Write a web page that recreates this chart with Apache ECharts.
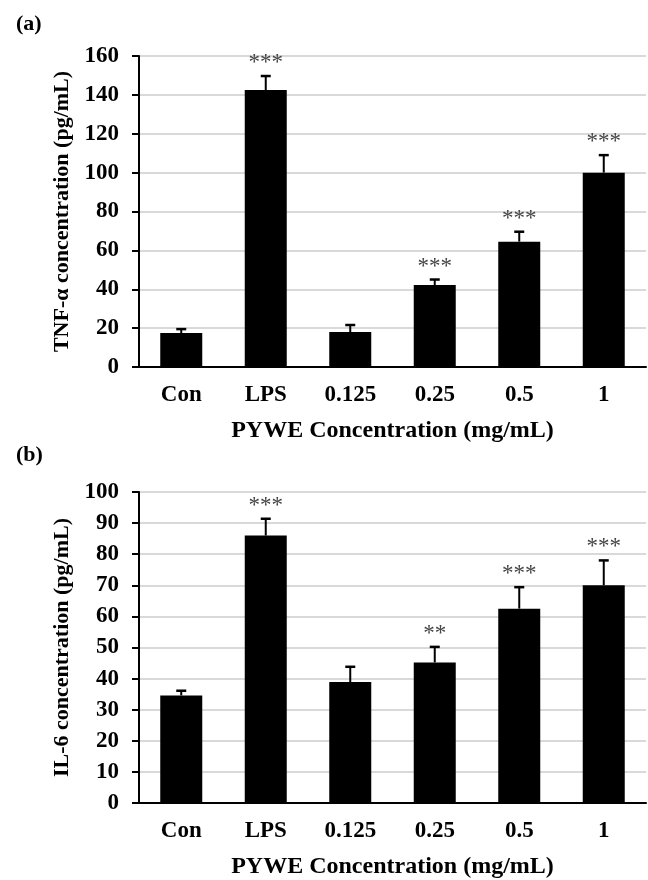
<!DOCTYPE html>
<html>
<head>
<meta charset="utf-8">
<script src="https://cdn.jsdelivr.net/npm/echarts@6/dist/echarts.min.js"></script>
<style>
  html, body { margin: 0; padding: 0; background: #fff; }
  #chart { width: 648px; height: 880px; }
</style>
</head>
<body>
<div id="chart"></div>
<script>
// ---- Data ----
const categories = ['Con', 'LPS', '0.125', '0.25', '0.5', '1'];

const tnfMean  = [17.5, 142.5, 18.0, 42.2, 64.5, 100.0];
const tnfUpper = [19.5, 149.7, 21.6, 45.0, 69.6, 109.0];
const tnfStars = ['', '***', '', '***', '***', '***'];

const il6Mean  = [34.6, 86.0, 38.9, 45.2, 62.5, 70.0];
const il6Upper = [36.1, 91.4, 43.8, 50.2, 69.4, 78.0];
const il6Stars = ['', '***', '', '**', '***', '***'];

const panelLabels = ['(a)', '(b)'];
const yTitles = ['TNF-\u03b1 concentration (pg/mL)', 'IL-6 concentration (pg/mL)'];
const xTitle = 'PYWE Concentration (mg/mL)';

// ---- Chart ----
const FONT = "'Liberation Serif', 'Times New Roman', serif";
const chart = echarts.init(document.getElementById('chart'), null, { renderer: 'canvas' });

function errSeries(gridIdx, mean, upper, stars) {
  return {
    type: 'custom',
    xAxisIndex: gridIdx,
    yAxisIndex: gridIdx,
    z: 5,
    data: mean.map((m, i) => [i, m, upper[i]]),
    renderItem: function (params, api) {
      const i = api.value(0);
      const p0 = api.coord([i, api.value(1)]);
      const p1 = api.coord([i, api.value(2)]);
      const cap = 5;
      const children = [
        { type: 'line', shape: { x1: p0[0], y1: p0[1], x2: p1[0], y2: p1[1] },
          style: { stroke: '#000', lineWidth: 2 } },
        { type: 'line', shape: { x1: p1[0] - cap, y1: p1[1], x2: p1[0] + cap, y2: p1[1] },
          style: { stroke: '#000', lineWidth: 2.5 } }
      ];
      const s = stars[params.dataIndex];
      if (s) {
        children.push({
          type: 'text',
          style: {
            text: s, x: p1[0], y: p1[1] - 13,
            align: 'center', verticalAlign: 'middle',
            font: 'normal 23px ' + FONT, fill: '#444'
          }
        });
      }
      return { type: 'group', children: children };
    }
  };
}

function xAxisCfg(gridIdx) {
  return {
    type: 'category',
    gridIndex: gridIdx,
    data: categories,
    name: xTitle,
    nameLocation: 'middle',
    nameGap: 52,
    nameTextStyle: { fontFamily: FONT, fontWeight: 'bold', fontSize: 24, color: '#000', verticalAlign: 'top' },
    axisLine: { lineStyle: { color: '#000', width: 2 } },
    axisTick: { alignWithLabel: true, length: 7, lineStyle: { color: '#000', width: 2 } },
    axisLabel: { fontFamily: FONT, fontWeight: 'bold', fontSize: 23, color: '#000', margin: 17 },
    splitLine: { show: false }
  };
}

function yAxisCfg(gridIdx, max, interval, title) {
  return {
    type: 'value',
    gridIndex: gridIdx,
    min: 0, max: max, interval: interval,
    name: title,
    nameLocation: 'middle',
    nameGap: 64,
    nameTextStyle: { fontFamily: FONT, fontWeight: 'bold', fontSize: 22, color: '#000' },
    axisLine: { show: true, lineStyle: { color: '#000', width: 2 } },
    axisTick: { show: true, length: 7, lineStyle: { color: '#000', width: 2 } },
    axisLabel: { fontFamily: FONT, fontWeight: 'bold', fontSize: 23, color: '#000', margin: 20 },
    splitLine: { show: true, lineStyle: { color: '#d9d9d9', width: 2 } }
  };
}

const option = {
  backgroundColor: '#fff',
  animation: false,
  title: [
    { text: panelLabels[0], left: 11, top: 8,
      textStyle: { fontFamily: FONT, fontWeight: 'bold', fontSize: 22, color: '#000' } },
    { text: panelLabels[1], left: 11, top: 439,
      textStyle: { fontFamily: FONT, fontWeight: 'bold', fontSize: 22, color: '#000' } }
  ],
  grid: [
    { left: 139, top: 56, width: 507, height: 311 },
    { left: 139, top: 492, width: 507, height: 311 }
  ],
  xAxis: [xAxisCfg(0), xAxisCfg(1)],
  yAxis: [
    yAxisCfg(0, 160, 20, yTitles[0]),
    yAxisCfg(1, 100, 10, yTitles[1])
  ],
  series: [
    { type: 'bar', xAxisIndex: 0, yAxisIndex: 0, data: tnfMean, barWidth: 42,
      itemStyle: { color: '#000' } },
    errSeries(0, tnfMean, tnfUpper, tnfStars),
    { type: 'bar', xAxisIndex: 1, yAxisIndex: 1, data: il6Mean, barWidth: 42,
      itemStyle: { color: '#000' } },
    errSeries(1, il6Mean, il6Upper, il6Stars)
  ]
};
chart.setOption(option);
</script>
</body>
</html>
